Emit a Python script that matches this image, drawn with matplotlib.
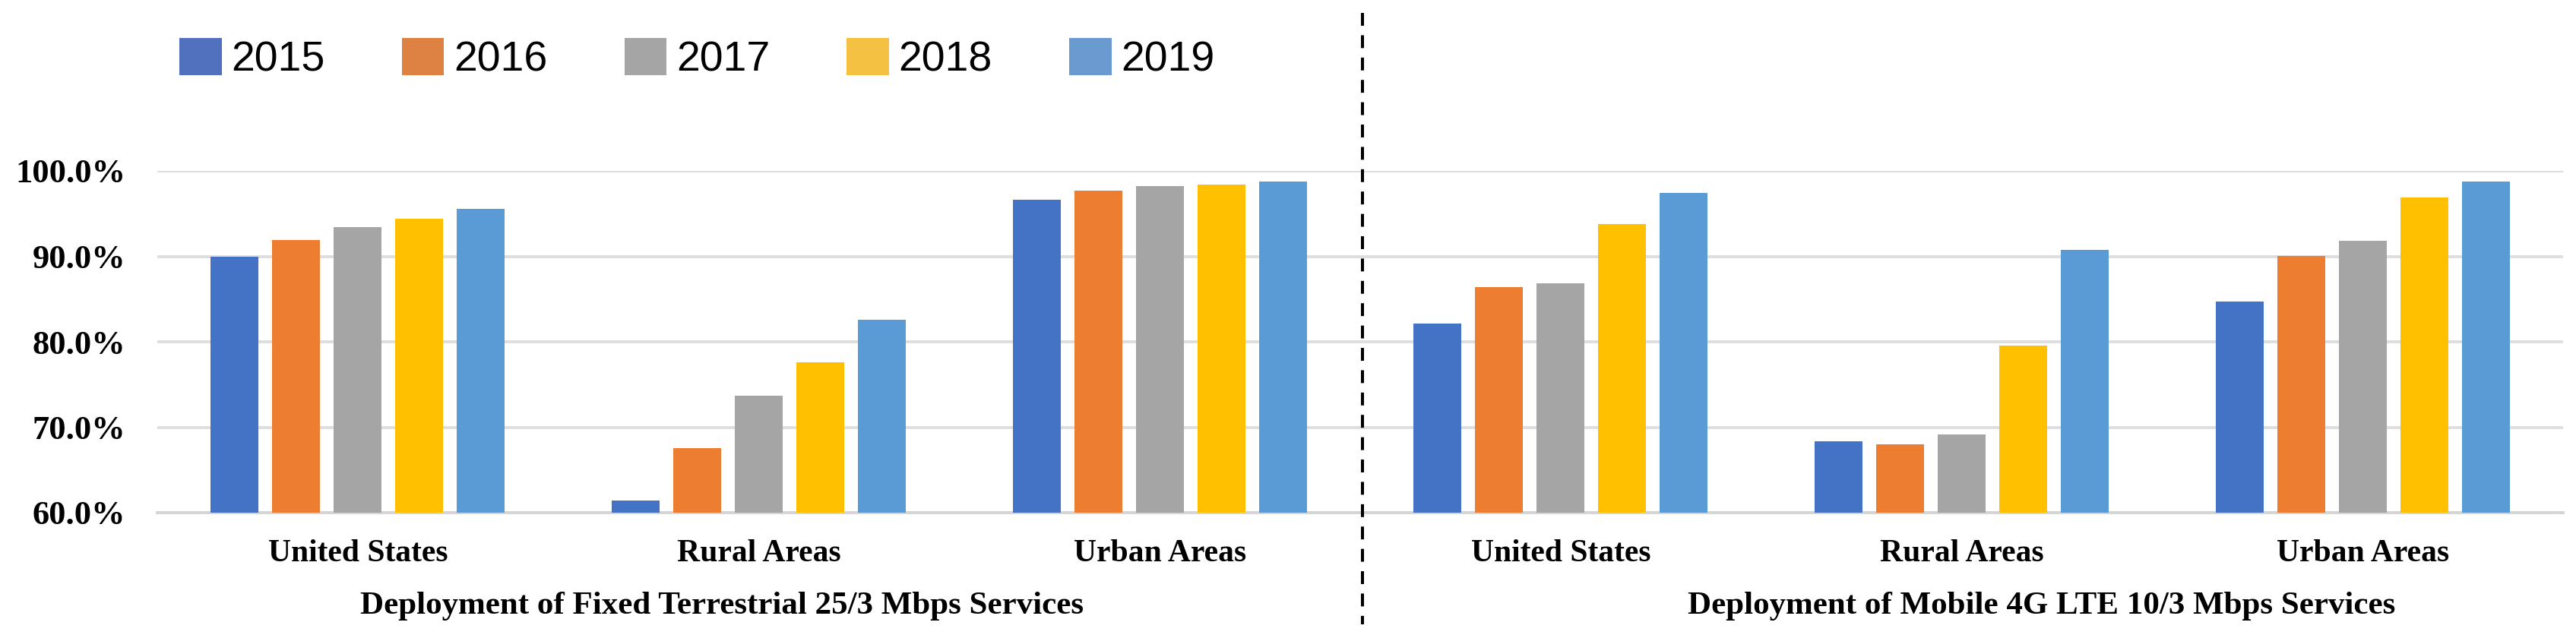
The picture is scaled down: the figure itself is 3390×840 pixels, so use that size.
import numpy as np
import matplotlib
matplotlib.use("Agg")
import matplotlib.pyplot as plt
from matplotlib.patches import Patch
from matplotlib.lines import Line2D

# dados (%)
anos = ["2015", "2016", "2017", "2018", "2019"]
categorias = ["United States", "Rural Areas", "Urban Areas"]

fixo = {
    "2015": [90.0, 61.4, 96.65],
    "2016": [91.9, 67.6, 97.7],
    "2017": [93.45, 73.65, 98.2],
    "2018": [94.4, 77.6, 98.4],
    "2019": [95.55, 82.6, 98.8],
}
movel = {
    "2015": [82.15, 68.35, 84.75],
    "2016": [86.4, 68.0, 90.05],
    "2017": [86.85, 69.2, 91.8],
    "2018": [93.8, 79.6, 96.9],
    "2019": [97.4, 90.75, 98.75],
}
titulo_fixo = "Deployment of Fixed Terrestrial 25/3 Mbps Services"
titulo_movel = "Deployment of Mobile 4G LTE 10/3 Mbps Services"

cores = ["#4472C4", "#ED7D31", "#A5A5A5", "#FFC000", "#5B9BD5"]
cores_legenda = ["#5170BD", "#DE8244", "#A5A5A5", "#F5C143", "#6A9AD0"]

W, H = 3390, 840
fig = plt.figure(figsize=(W / 100, H / 100), dpi=100)

serif = "Liberation Serif"
y0, y1 = 1 - 675 / H, 1 - 225 / H
ax_l = fig.add_axes([207 / W, y0, (1790 - 207) / W, y1 - y0])
ax_r = fig.add_axes([1790 / W, y0, (3373 - 1790) / W, y1 - y0])

x = np.arange(len(categorias))
passo, largura = 0.1535, 0.12

for ax, dados in [(ax_l, fixo), (ax_r, movel)]:
    for i, ano in enumerate(anos):
        ax.bar(x + (i - 2) * passo, dados[ano], width=largura, color=cores[i], zorder=3)
    ax.set_ylim(60, 100)
    ax.set_xlim(-0.5, 2.5)
    ax.set_yticks([60, 70, 80, 90, 100])
    ax.grid(True, axis="y", color="#DEDEDE", linewidth=2.8, zorder=0)
    for s in ["top", "right", "left"]:
        ax.spines[s].set_visible(False)
    ax.spines["bottom"].set_color("#D4D4D4")
    ax.spines["bottom"].set_linewidth(2.8)
    ax.set_xticks(x)
    ax.set_xticklabels(categorias, fontfamily=serif, fontweight="bold", fontsize=30)
    ax.tick_params(axis="x", length=0, pad=25)
    ax.tick_params(axis="y", length=0, pad=30)

ax_l.set_yticklabels([f"{v:.1f}%" for v in [60, 70, 80, 90, 100]],
                     fontfamily=serif, fontweight="bold", fontsize=32)
ax_r.set_yticklabels([])

fig.text(950 / W, 1 - 798 / H, titulo_fixo, ha="center", va="center",
         fontfamily=serif, fontweight="bold", fontsize=31)
fig.text(2687 / W, 1 - 798 / H, titulo_movel, ha="center", va="center",
         fontfamily=serif, fontweight="bold", fontsize=31)

# linha tracejada separando os painéis
fig.add_artist(Line2D([1793 / W, 1793 / W], [1 - 17 / H, 1 - 822 / H],
                      color="black", linewidth=2.9, linestyle=(0, (4.2, 3.1)),
                      transform=fig.transFigure))

handles = [Patch(facecolor=c, edgecolor="none") for c in cores_legenda]
fig.legend(handles, anos, loc="center left", bbox_to_anchor=(236 / W, 1 - 78 / H),
           ncol=5, frameon=False, borderpad=0, borderaxespad=0,
           prop={"family": "Liberation Sans", "size": 40},
           handlelength=1.0, handleheight=0.97, handletextpad=0.23,
           columnspacing=1.82)

fig.savefig("out.png", dpi=100)
